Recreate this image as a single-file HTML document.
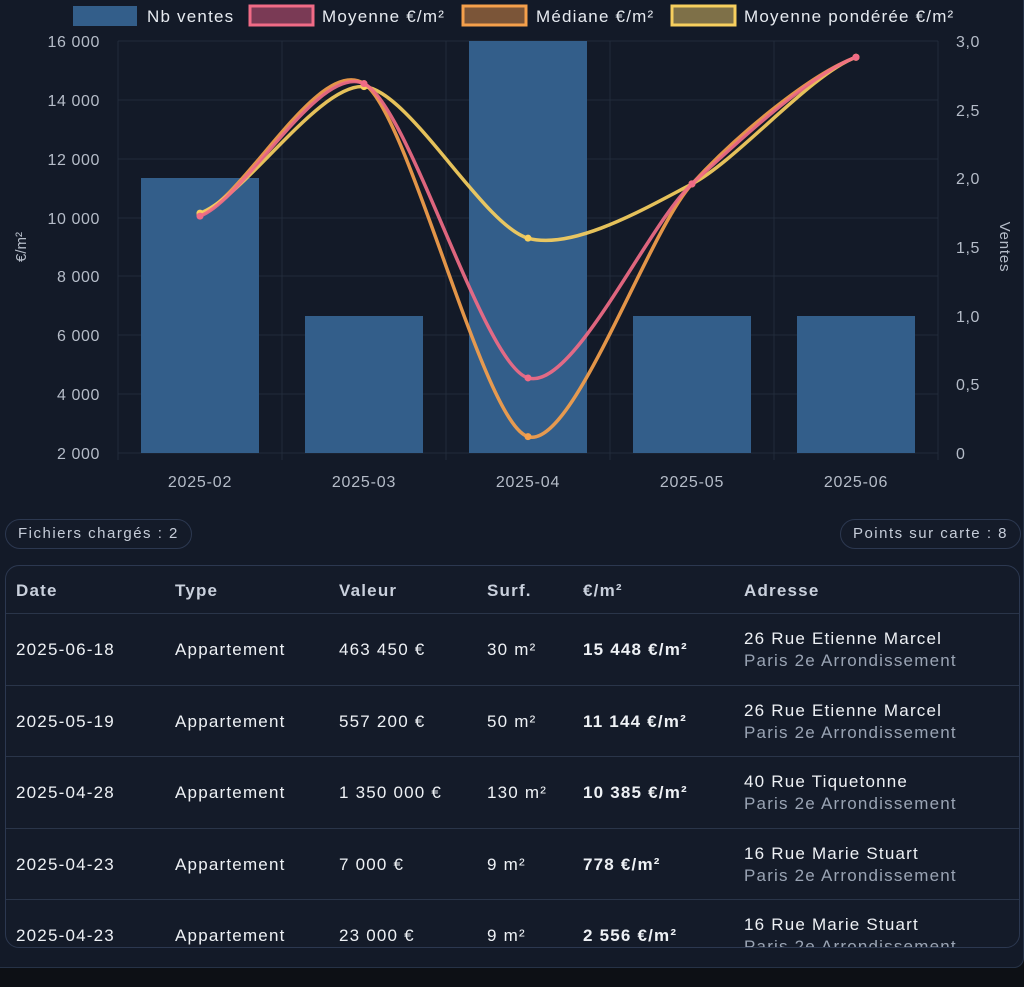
<!DOCTYPE html>
<html><head><meta charset="utf-8"><style>
body{margin:0;width:1024px;height:987px;background:#0d1015;font-family:"Liberation Sans",sans-serif;overflow:hidden;position:relative}
.panel{position:absolute;left:-10px;top:-10px;width:1032px;height:976px;background:#131a28;border:1px solid #263246;border-radius:10px}
.pill{position:absolute;top:519px;height:28px;line-height:28px;padding:0 12px;border:1px solid #2c3850;border-radius:15px;color:#c6cdd9;font-size:15px;background:#141b29;letter-spacing:1.5px}
.tbl{position:absolute;left:5px;top:565px;width:1013px;height:381px;border:1px solid #2c3850;border-radius:14px;overflow:hidden;background:#141b29}
.row{position:absolute;left:0;width:100%;border-bottom:1px solid #2a3549;color:#eef1f5;font-size:17px;letter-spacing:1.2px}
.row span{position:absolute}
.h{color:#c9d0dc;font-weight:bold}
.sub{color:#9aa4b4}
</style></head><body>
<div class="panel"></div>
<svg width="1024" height="510" style="position:absolute;left:0;top:0" font-family="Liberation Sans, sans-serif">
<g stroke="#222b3a" stroke-width="1">
<line x1="118" x2="938" y1="41" y2="41"/><line x1="118" x2="938" y1="100" y2="100"/><line x1="118" x2="938" y1="159" y2="159"/><line x1="118" x2="938" y1="218" y2="218"/><line x1="118" x2="938" y1="276" y2="276"/><line x1="118" x2="938" y1="335" y2="335"/><line x1="118" x2="938" y1="394" y2="394"/><line x1="118" x2="938" y1="453" y2="453"/>
<line x1="118" x2="118" y1="41" y2="460"/><line x1="282" x2="282" y1="41" y2="460"/><line x1="446" x2="446" y1="41" y2="460"/><line x1="610" x2="610" y1="41" y2="460"/><line x1="774" x2="774" y1="41" y2="460"/><line x1="938" x2="938" y1="41" y2="460"/>
</g>
<g fill="#335e8a">
<rect x="141" y="178" width="118" height="275"/><rect x="305" y="316" width="118" height="137"/><rect x="469" y="41" width="118" height="412"/><rect x="633" y="316" width="118" height="137"/><rect x="797" y="316" width="118" height="137"/>
</g>
<g fill="#b5bcc8" font-size="16" text-anchor="end" letter-spacing="0.6">
<text x="100" y="47">16 000</text><text x="100" y="106">14 000</text><text x="100" y="165">12 000</text><text x="100" y="224">10 000</text><text x="100" y="282">8 000</text><text x="100" y="341">6 000</text><text x="100" y="400">4 000</text><text x="100" y="459">2 000</text>
</g>
<g fill="#b5bcc8" font-size="16" letter-spacing="0.6">
<text x="956" y="47">3,0</text><text x="956" y="116">2,5</text><text x="956" y="184">2,0</text><text x="956" y="253">1,5</text><text x="956" y="322">1,0</text><text x="956" y="390">0,5</text><text x="956" y="459">0</text>
</g>
<g fill="#b5bcc8" font-size="16" text-anchor="middle" letter-spacing="0.8">
<text x="200" y="487">2025-02</text><text x="364" y="487">2025-03</text><text x="528" y="487">2025-04</text><text x="692" y="487">2025-05</text><text x="856" y="487">2025-06</text>
</g>
<text transform="translate(26,247) rotate(-90)" fill="#b5bcc8" font-size="15" text-anchor="middle">€/m²</text>
<text transform="translate(1000,247) rotate(90)" fill="#b5bcc8" font-size="15" text-anchor="middle" letter-spacing="0.8">Ventes</text>
<g id="lines"></g>
<g font-size="17" fill="#e6eaf0" letter-spacing="1.2">
<rect x="73" y="6" width="64" height="20" fill="#335e8a"/><text x="147" y="22">Nb ventes</text>
<rect x="250" y="6" width="63" height="19" fill="#7a3a55" stroke="#f06b86" stroke-width="3"/><text x="322" y="22">Moyenne €/m²</text>
<rect x="463" y="6" width="63" height="19" fill="#7b5538" stroke="#f5a04b" stroke-width="3"/><text x="536" y="22">Médiane €/m²</text>
<rect x="672" y="6" width="63" height="19" fill="#7e7048" stroke="#f7cf5e" stroke-width="3"/><text x="744" y="22">Moyenne pondérée €/m²</text>
</g>
</svg>
<div class="pill" style="left:5px">Fichiers chargés : 2</div>
<div class="pill" style="right:3px">Points sur carte : 8</div>
<div class="tbl">
<div class="row h" style="top:0;height:47px"><span style="left:10px;top:15px">Date</span><span style="left:169px;top:15px">Type</span><span style="left:333px;top:15px">Valeur</span><span style="left:481px;top:15px">Surf.</span><span style="left:577px;top:15px">€/m²</span><span style="left:738px;top:15px">Adresse</span></div>
<div id="rows"></div>
</div>
<script>
var xs=[200,364,528,692,856];
function y(v){return 453-(v-2000)*412/14000;}
function path(vals){var p=vals.map(function(v,i){return [xs[i],y(v)]});var d="M"+p[0][0]+","+p[0][1];
for(var i=0;i<p.length-1;i++){var p0=p[i-1]||p[i],p1=p[i],p2=p[i+1],p3=p[i+2]||p2,t=0.13;
var c1=[p1[0]+45,p1[1]+(p2[1]-p0[1])*t];var c2=[p2[0]-45,p2[1]-(p3[1]-p1[1])*t];
d+=" C"+c1+" "+c2+" "+p2;}return d;}
var L=[[[10100,14550,2556,11144,15448],"#f5a04b"],[[10150,14450,9300,11144,15448],"#f7cf5e"],[[10050,14550,4550,11144,15448],"#f06b86"]];
var g="";L.forEach(function(s){g+='<path d="'+path(s[0])+'" fill="none" stroke="'+s[1]+'" stroke-width="3.5" opacity="0.92"/>';s[0].forEach(function(v,i){g+='<circle cx="'+xs[i]+'" cy="'+y(v)+'" r="3.5" fill="'+s[1]+'"/>';});});
document.getElementById("lines").innerHTML=g;
var R=[["2025-06-18","463 450 €","30 m²","15 448 €/m²","26 Rue Etienne Marcel"],["2025-05-19","557 200 €","50 m²","11 144 €/m²","26 Rue Etienne Marcel"],["2025-04-28","1 350 000 €","130 m²","10 385 €/m²","40 Rue Tiquetonne"],["2025-04-23","7 000 €","9 m²","778 €/m²","16 Rue Marie Stuart"],["2025-04-23","23 000 €","9 m²","2 556 €/m²","16 Rue Marie Stuart"]];
var h="";R.forEach(function(r,i){var t=48+i*71.5;h+='<div class="row" style="top:'+t+'px;height:70.5px"><span style="left:10px;top:26px">'+r[0]+'</span><span style="left:169px;top:26px">Appartement</span><span style="left:333px;top:26px">'+r[1]+'</span><span style="left:481px;top:26px">'+r[2]+'</span><span style="left:577px;top:26px;font-weight:bold">'+r[3]+'</span><span style="left:738px;top:15px">'+r[4]+'</span><span class="sub" style="left:738px;top:37px">Paris 2e Arrondissement</span></div>';});
document.getElementById("rows").innerHTML=h;
</script>
</body></html>
